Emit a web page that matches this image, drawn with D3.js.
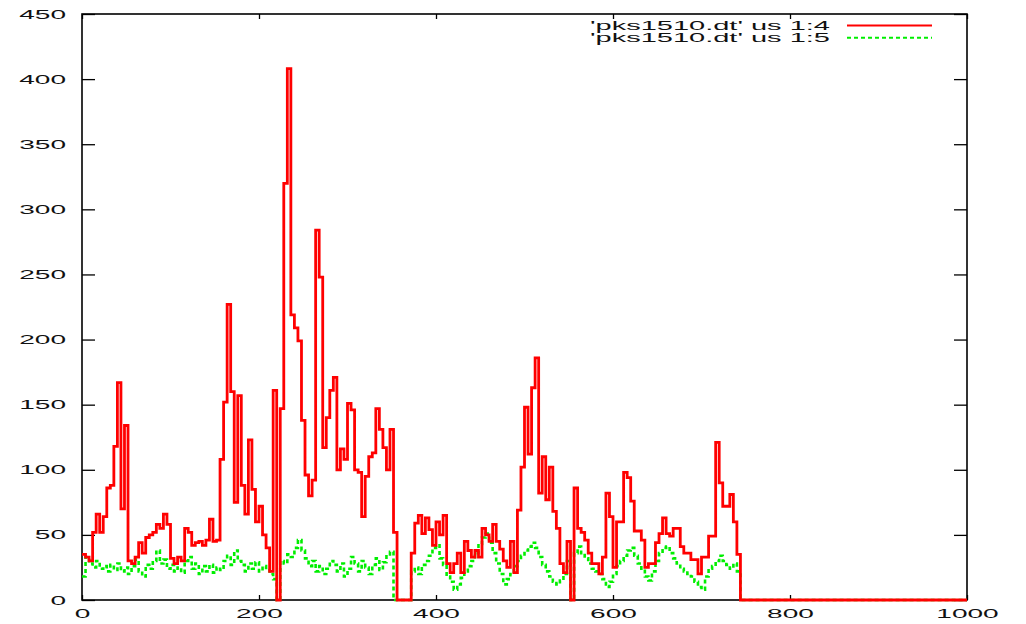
<!DOCTYPE html>
<html>
<head>
<meta charset="utf-8">
<script src="https://cdn.jsdelivr.net/npm/d3@7"></script>
<style>
  html, body { margin: 0; padding: 0; background: #fff; }
  svg { display: block; }
  text { font-family: "Liberation Sans", Arial, Helvetica, sans-serif; fill: #111; }
</style>
</head>
<body>
<svg id="chart" width="1026" height="624"></svg>
<script>
// Sample positions (column 1) and the two measured columns (4 and 5).
const step = 4;
const xValues = d3.range(0, 745, step).concat([1000]);

const col4 = [
  35, 33, 30, 52, 66, 52, 64, 86, 88, 118, 167, 70, 134, 30, 28, 33,
  44, 36, 48, 50, 52, 58, 55, 66, 58, 32, 28, 33, 30, 55, 52, 42,
  44, 45, 42, 46, 62, 45, 46, 108, 152, 227, 160, 75, 157, 88, 66, 123,
  85, 60, 72, 50, 40, 22, 161, 0, 147, 320, 408, 219, 209, 199, 138, 96,
  80, 92, 284, 248, 117, 140, 161, 171, 100, 116, 108, 151, 146, 100, 98, 64,
  95, 110, 113, 147, 131, 117, 100, 131, 52, 0, 0, 0, 0, 36, 59, 65,
  51, 63, 54, 42, 60, 50, 65, 28, 21, 28, 36, 21, 45, 38, 33, 38,
  33, 55, 50, 45, 58, 45, 39, 30, 25, 45, 21, 69, 102, 148, 112, 163,
  186, 82, 110, 77, 102, 68, 55, 28, 21, 45, 0, 86, 55, 52, 46, 36,
  28, 28, 20, 33, 82, 64, 25, 60, 60, 98, 94, 76, 53, 53, 46, 25,
  28, 28, 44, 51, 63, 51, 49, 55, 55, 41, 36, 36, 31, 31, 20, 33,
  33, 49, 49, 121, 90, 72, 72, 81, 60, 35, 0, 0
];

const col5 = [
  18, 33, 28, 25, 30, 24, 26, 22, 27, 23, 28, 22, 25, 20, 26, 31,
  22, 18, 27, 24, 30, 38, 28, 31, 24, 27, 22, 25, 21, 30, 33, 24,
  28, 20, 26, 22, 27, 21, 25, 23, 30, 34, 27, 38, 30, 27, 22, 28,
  24, 29, 22, 26, 23, 20, 16, 0, 30, 28, 35, 33, 40, 46, 38, 32,
  26, 30, 22, 26, 20, 24, 30, 27, 22, 28, 18, 24, 33, 28, 22, 30,
  25, 20, 27, 32, 23, 29, 35, 37, 0, 0, 0, 0, 0, 22, 25, 20,
  27, 30, 34, 40, 42, 32, 27, 18, 14, 8, 12, 17, 22, 26, 30, 36,
  43, 48, 51, 44, 36, 28, 20, 12, 16, 20, 26, 30, 34, 38, 41, 44,
  40, 33, 27, 22, 18, 14, 12, 15, 20, 30, 0, 36, 41, 36, 32, 28,
  24, 22, 20, 16, 10, 14, 20, 26, 30, 34, 38, 40, 34, 28, 24, 18,
  15, 22, 30, 36, 40, 41, 36, 32, 28, 24, 22, 20, 18, 14, 10, 8,
  18, 24, 26, 30, 34, 30, 27, 24, 28, 22, 0, 0
];

const xTicks = [0, 200, 400, 600, 800, 1000];
const yTicks = [0, 50, 100, 150, 200, 250, 300, 350, 400, 450];
const seriesLabels = ["'pks1510.dt' us 1:4", "'pks1510.dt' us 1:5"];
const seriesColors = ["#ff0000", "#00ee00"];

const svg = d3.select("#chart");
const frame = { left: 82, right: 967, top: 14, bottom: 600 };

const x = d3.scaleLinear().domain([0, 1000]).range([frame.left, frame.right]);
const y = d3.scaleLinear().domain([0, 450]).range([frame.bottom, frame.top]);

// Wide, low glyphs: stretch each label horizontally to a fixed advance per character.
const charAdvance = 15.6;
function stretch(sel) {
  sel.attr("textLength", d => String(d).length * charAdvance)
     .attr("lengthAdjust", "spacingAndGlyphs");
}

const fontSize = 12.5;

// Left axis with labels, inward ticks
const gLeft = svg.append("g")
  .attr("transform", `translate(${frame.left},0)`)
  .call(d3.axisLeft(y).tickValues(yTicks).tickSize(-13).tickPadding(16).tickFormat(d3.format("d")));
// Bottom axis with labels, inward ticks
const gBottom = svg.append("g")
  .attr("transform", `translate(0,${frame.bottom})`)
  .call(d3.axisBottom(x).tickValues(xTicks).tickSize(-5).tickPadding(9).tickFormat(d3.format("d")));
// Mirrored ticks on top and right
const gTop = svg.append("g")
  .attr("transform", `translate(0,${frame.top})`)
  .call(d3.axisTop(x).tickValues(xTicks).tickSize(-5).tickFormat(""));
const gRight = svg.append("g")
  .attr("transform", `translate(${frame.right},0)`)
  .call(d3.axisRight(y).tickValues(yTicks).tickSize(-13).tickFormat(""));

[gLeft, gBottom, gTop, gRight].forEach(g => {
  g.select(".domain").remove();
  g.selectAll(".tick line").attr("stroke", "#000").attr("stroke-width", 1.3);
  g.selectAll(".tick text")
    .attr("font-size", fontSize)
    .attr("font-family", "Liberation Sans, Arial, sans-serif")
    .attr("fill", "#111");
});
gLeft.selectAll(".tick text").call(stretch);
gBottom.selectAll(".tick text").call(stretch);

// Plot border
svg.append("rect")
  .attr("x", frame.left).attr("y", frame.top)
  .attr("width", frame.right - frame.left).attr("height", frame.bottom - frame.top)
  .attr("fill", "none").attr("stroke", "#000").attr("stroke-width", 1.6);

// Series lines (step form)
const line = d3.line()
  .x((d, i) => x(xValues[i]))
  .y(d => y(d))
  .curve(d3.curveStepAfter);

svg.append("path")
  .datum(col5)
  .attr("fill", "none")
  .attr("stroke", seriesColors[1])
  .attr("stroke-width", 2.6)
  .attr("stroke-dasharray", "4,3")
  .attr("d", line);

svg.append("path")
  .datum(col4)
  .attr("fill", "none")
  .attr("stroke", seriesColors[0])
  .attr("stroke-width", 2.8)
  .attr("stroke-linejoin", "miter")
  .attr("d", line);

// Legend
const legend = svg.append("g");
const legendRows = [25.5, 37.7];
seriesLabels.forEach((label, i) => {
  legend.append("text")
    .attr("x", 830).attr("y", legendRows[i])
    .attr("dy", "0.36em")
    .attr("text-anchor", "end")
    .attr("font-size", fontSize)
    .attr("textLength", 240)
    .attr("lengthAdjust", "spacingAndGlyphs")
    .text(label);
  legend.append("line")
    .attr("x1", 847).attr("x2", 932)
    .attr("y1", legendRows[i]).attr("y2", legendRows[i])
    .attr("stroke", seriesColors[i])
    .attr("stroke-width", 2)
    .attr("stroke-dasharray", i === 1 ? "4,3" : null);
});
</script>
</body>
</html>
